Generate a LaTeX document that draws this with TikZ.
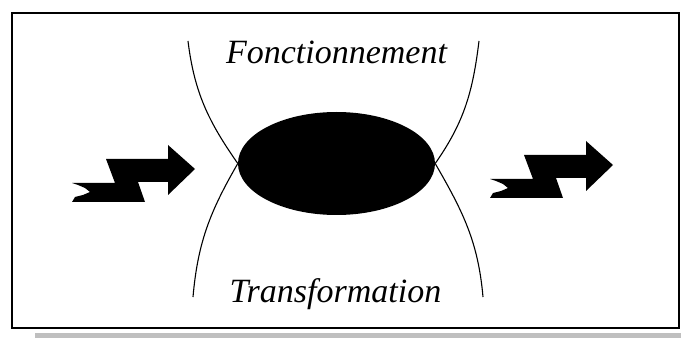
\documentclass[tikz,border=0pt]{standalone}
\usepackage{fontspec}
\setmainfont{Liberation Serif}
\usetikzlibrary{shapes.geometric}

\begin{document}
\begin{tikzpicture}[x=1pt, y=1pt]
	\tikzset{
		frame/.style={draw=black, line width=1.5pt},
		shade/.style={fill=black!25, draw=none},
		blob/.style={ellipse, fill=black, minimum width=197pt, minimum height=103pt, inner sep=0pt},
		word/.style={font=\fontsize{34}{40}\selectfont\itshape, anchor=base, inner sep=0pt},
		curve/.style={line width=1.1pt},
		bolt/.pic={\fill (-123,-14) -- (-80,-14) -- (-89,10) -- (-27,10) -- (-27,24) -- (0,0) -- (-27,-26) -- (-27,-13) -- (-57,-13) -- (-50,-33) -- (-123,-33) -- (-120,-28) -- (-112,-26) -- (-105,-23) -- (-110,-19) -- (-117,-16) -- cycle;},
	}
	\useasboundingbox (0,0) rectangle (681,338);
	\fill[shade] (35,0) rectangle (681,5);
	\draw[frame] (12,10) rectangle (679,325);
	\node[blob](core) at (336.5,174.5) {};
	\node[word](fonc) at (336.5,274) {Fonctionnement};
	\node[word](trans) at (335.5,36) {Transformation};
	%bolts in and out
	\pic at (195,169) {bolt};
	\pic at (613,173) {bolt};
	%draw curves
	\coordinate (ul) at (188,297);
	\coordinate (ur) at (479,297);
	\coordinate (ll) at (193,41);
	\coordinate (lr) at (483,41);
	\draw[curve] (ul) to[out=-83, in=125] (core.west);
	\draw[curve] (core.west) to[out=-120, in=85] (ll);
	\draw[curve] (ur) to[out=-97, in=55] (core.east);
	\draw[curve] (core.east) to[out=-60, in=95] (lr);
\end{tikzpicture}
\end{document}
